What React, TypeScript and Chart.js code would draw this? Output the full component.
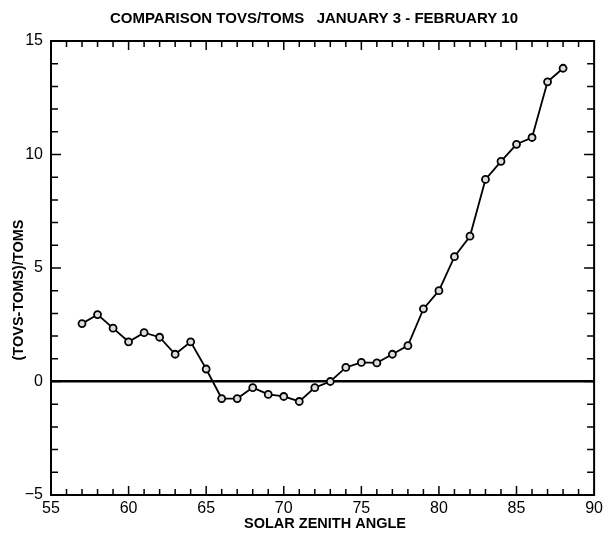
import React, { useEffect, useRef } from "react";
import { Chart, registerables } from "chart.js";

Chart.register(...registerables);

const angles = [57, 58, 59, 60, 61, 62, 63, 64, 65, 66, 67, 68, 69, 70, 71, 72, 73, 74, 75, 76, 77, 78, 79, 80, 81, 82, 83, 84, 85, 86, 87, 88];
const diffs = [2.55, 2.95, 2.35, 1.75, 2.15, 1.95, 1.2, 1.75, 0.55, -0.75, -0.75, -0.27, -0.57, -0.66, -0.88, -0.27, 0.0, 0.62, 0.84, 0.82, 1.2, 1.58, 3.2, 4.0, 5.5, 6.4, 8.9, 9.7, 10.45, 10.75, 13.2, 13.8];
const xTickLabels = [55, 60, 65, 70, 75, 80, 85, 90];
const yTickLabels = [-5, 0, 5, 10, 15];
const chartTitle = "COMPARISON TOVS/TOMS   JANUARY 3 - FEBRUARY 10";
const xTitle = "SOLAR ZENITH ANGLE";
const yTitle = "(TOVS-TOMS)/TOMS";

const FONT = "'Liberation Sans', Arial, sans-serif";

export default function App() {
  const ref = useRef<HTMLCanvasElement>(null);
  useEffect(() => {
    document.body.style.margin = "0";
    const canvas = ref.current!;
    const framePlugin = {
      id: "frame",
      afterDraw(chart: any) {
        const ctx = chart.ctx as CanvasRenderingContext2D;
        const { left, right, top, bottom } = chart.chartArea;
        const xs = chart.scales.x;
        const ys = chart.scales.y;
        ctx.save();
        ctx.strokeStyle = "#000";
        ctx.lineWidth = 2;
        ctx.strokeRect(left, top, right - left, bottom - top);
        ctx.lineWidth = 1.5;
        ctx.beginPath();
        for (let v = xs.min + 1; v < xs.max; v++) {
          const px = xs.getPixelForValue(v);
          const len = v % 5 === 0 ? 9 : 6;
          ctx.moveTo(px, bottom);
          ctx.lineTo(px, bottom - len);
          ctx.moveTo(px, top);
          ctx.lineTo(px, top + len);
        }
        for (let v = ys.min + 1; v < ys.max; v++) {
          const py = ys.getPixelForValue(v);
          const len = v % 5 === 0 ? 10 : 7;
          ctx.moveTo(left, py);
          ctx.lineTo(left + len, py);
          ctx.moveTo(right, py);
          ctx.lineTo(right - len, py);
        }
        ctx.stroke();
        ctx.fillStyle = "#000";
        ctx.textAlign = "center";
        ctx.textBaseline = "middle";
        ctx.font = `bold 15px ${FONT}`;
        ctx.fillText(chartTitle, 314, 19);
        ctx.font = `bold 14.5px ${FONT}`;
        ctx.fillText(xTitle, 325, 524);
        ctx.translate(19, 290);
        ctx.rotate(-Math.PI / 2);
        ctx.fillText(yTitle, 0, 0);
        ctx.restore();
      },
    };
    const chart = new Chart(canvas, {
      type: "line",
      data: {
        datasets: [
          {
            data: angles.map((a, i) => ({ x: a, y: diffs[i] })),
            borderColor: "#000",
            borderWidth: 1.8,
            pointRadius: 3.5,
            pointBorderWidth: 1.8,
            pointBackgroundColor: "#ddd",
            pointBorderColor: "#000",
            tension: 0,
          },
        ],
      },
      options: {
        animation: false,
        responsive: false,
        maintainAspectRatio: false,
        layout: { padding: { left: 0, right: 12, top: 41, bottom: 0 } },
        plugins: { legend: { display: false }, tooltip: { enabled: false }, title: { display: false } },
        scales: {
          x: {
            type: "linear",
            min: 55,
            max: 90,
            afterBuildTicks: (s: any) => {
              s.ticks = xTickLabels.map((v) => ({ value: v }));
            },
            afterFit: (s: any) => {
              s.height = 42;
            },
            ticks: { color: "#000", font: { family: FONT, size: 16 }, padding: 4, maxRotation: 0, autoSkip: false },
            grid: { display: false, drawTicks: false },
            border: { display: false },
          },
          y: {
            type: "linear",
            min: -5,
            max: 15,
            afterBuildTicks: (s: any) => {
              s.ticks = yTickLabels.map((v) => ({ value: v }));
            },
            afterFit: (s: any) => {
              s.width = 51;
            },
            ticks: {
              color: "#000",
              font: { family: FONT, size: 16 },
              padding: 8,
              callback: (v: any) => (Number(v) < 0 ? "\u2212" + Math.abs(Number(v)) : String(v)),
            },
            grid: {
              drawTicks: false,
              color: (c: any) => (c.tick && c.tick.value === 0 ? "#000" : "rgba(0,0,0,0)"),
              lineWidth: (c: any) => (c.tick && c.tick.value === 0 ? 2.5 : 0),
            },
            border: { display: false },
          },
        },
      },
      plugins: [framePlugin],
    });
    return () => chart.destroy();
  }, []);
  return (
    <div style={{ width: 607, height: 537, background: "#fff" }}>
      <canvas ref={ref} width={607} height={537} style={{ display: "block" }} />
    </div>
  );
}
